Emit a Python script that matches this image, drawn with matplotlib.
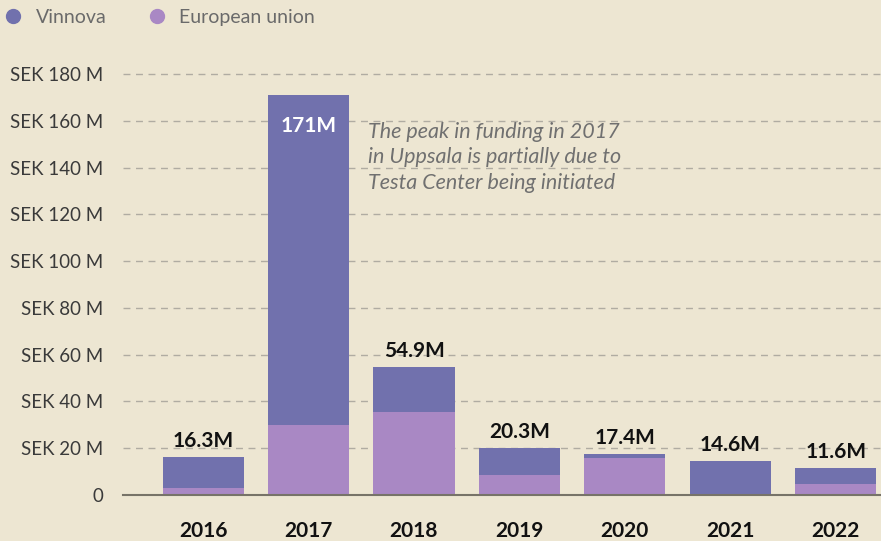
import numpy as np
import matplotlib
matplotlib.use("Agg")
import matplotlib.pyplot as plt
from matplotlib.lines import Line2D

plt.rcParams["font.family"] = ["Lato", "DejaVu Sans"]

# Data (SEK millions)
years = ["2016", "2017", "2018", "2019", "2020", "2021", "2022"]
eu = [3.0, 30.0, 35.6, 8.6, 16.0, 0.0, 4.7]
vinnova = [13.3, 141.0, 19.3, 11.7, 1.4, 14.6, 6.9]
labels = ["16.3M", "171M", "54.9M", "20.3M", "17.4M", "14.6M", "11.6M"]
yticks = [0, 20, 40, 60, 80, 100, 120, 140, 160, 180]
ytick_labels = ["0"] + ["SEK %d M" % v for v in yticks[1:]]

bg = "#ede6d2"
c_vin = "#7171ad"
c_eu = "#a988c4"

fig = plt.figure(figsize=(8.81, 5.41), dpi=100, facecolor=bg)
ax = fig.add_axes([0.1396, 0.085, 0.8604, 0.804])
ax.set_facecolor(bg)

x = np.arange(len(years))
w = 0.77
totals = np.array(eu) + np.array(vinnova)
ax.bar(x, eu, width=w, color=c_eu, zorder=3)
ax.bar(x, vinnova, width=w, bottom=eu, color=c_vin, zorder=3)

for i, (t, lab) in enumerate(zip(totals, labels)):
    if i == 1:
        ax.text(x[i], t - 9, lab, ha="center", va="top", color="white",
                fontsize=15, fontweight="bold", zorder=4)
    else:
        ax.text(x[i], t + 2.5, lab, ha="center", va="bottom", color="#111111",
                fontsize=15, fontweight="bold", zorder=4)

ax.text(1.56, 159.5, "The peak in funding in 2017\nin Uppsala is partially due to\nTesta Center being initiated",
        ha="left", va="top", style="italic", fontsize=15.5,
        color="#707070", linespacing=1.33, zorder=5)

ax.set_xlim(-0.76, 6.43)
ax.set_ylim(0, 186)
ax.set_yticks(yticks)
ax.set_yticklabels(ytick_labels, fontsize=13.5, color="#3a3a3a")
ax.set_xticks(x)
ax.set_xticklabels(years, fontsize=15, fontweight="bold", color="#111111")
ax.tick_params(axis="x", length=0, pad=19)
ax.tick_params(axis="y", length=0, pad=14)

ax.grid(axis="y", ls=(0, (5, 4)), color="#b0aca2", lw=1, zorder=0)
for s in ["top", "right", "left"]:
    ax.spines[s].set_visible(False)
ax.spines["bottom"].set_color("#777368")
ax.spines["bottom"].set_linewidth(1.5)
ax.spines["bottom"].set_zorder(4)

handles = [Line2D([], [], marker="o", ls="", ms=10, color=c_vin),
           Line2D([], [], marker="o", ls="", ms=10, color=c_eu)]
fig.legend(handles, ["Vinnova", "European union"], loc="upper left",
           bbox_to_anchor=(-0.027, 1.016), ncol=2, frameon=False,
           labelcolor="#6a6a6a", handletextpad=0.15,
           columnspacing=1.6, prop={"size": 14})

fig.savefig("out.png", dpi=100, facecolor=bg)
